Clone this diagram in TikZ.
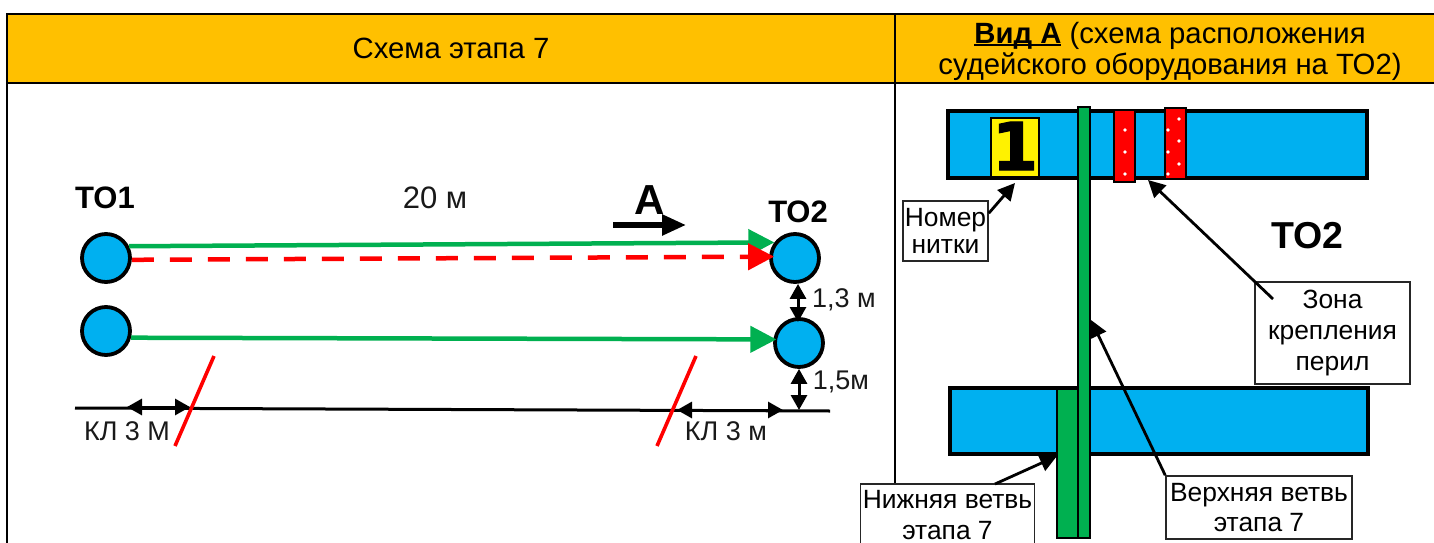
\documentclass[tikz,border=0pt]{standalone}
\usepackage{fontspec}
\setmainfont{Liberation Sans}
\newfontfamily\heavyfont[FakeBold=2]{DejaVu Sans Bold}
\usetikzlibrary{arrows.meta}
\definecolor{hdr}{HTML}{FFC000}
\definecolor{sky}{HTML}{00B0F0}
\definecolor{grn}{HTML}{00B050}
\definecolor{rd}{HTML}{FF0000}
\newcommand{\fs}[1]{\fontsize{#1pt}{#1pt}\selectfont}
\newcommand{\tightul}[1]{\setbox0\hbox{#1}\rlap{\rule[-2.4pt]{\wd0}{1.8pt}}\box0\relax}
\tikzset{
  header/.style={draw=black,line width=2.6pt,fill=hdr,inner sep=0pt,outer sep=0pt,align=center,font=\fs{29.3},text=black},
  post/.style={circle,draw=black,line width=3.8pt,fill=sky,minimum size=48pt,inner sep=0pt},
  bar/.style={draw=black,line width=4pt,fill=sky,inner sep=0pt},
  greenbar/.style={draw=black,line width=2pt,fill=grn,inner sep=0pt},
  redbar/.style={draw=black,line width=2pt,fill=rd,inner sep=0pt},
  callout/.style={draw=black!85,line width=1.6pt,fill=white,inner sep=0pt,align=center,font=\fs{26.4}},
  lbl/.style={inner sep=0pt,font=\fs{27},text=black!90},
  blbl/.style={inner sep=0pt,font=\fs{31}\bfseries},
  gline/.style={draw=grn,line width=4.5pt,-{Triangle[length=26pt,width=26pt]}},
  rline/.style={draw=rd,line width=4.5pt,dash pattern=on 22pt off 16pt,-{Triangle[length=26pt,width=26pt]}},
  dbl/.style={draw=black,line width=3pt,{Triangle[length=15pt,width=16pt]}-{Triangle[length=15pt,width=16pt]}},
  ptr/.style={draw=black,line width=2.8pt,-{Triangle[length=17pt,width=17pt]}},
  slash/.style={draw=rd,line width=3.6pt},
  wdot/.style={circle,fill=white,minimum size=3.8pt,inner sep=0pt}
}
\begin{document}
\begin{tikzpicture}[x=1pt,y=-1pt]
\clip (0,0) rectangle (1434,543);
\fill[white] (0,0) rectangle (1434,543);
% frame
\node[header,minimum width=888pt,minimum height=69pt] (h1) at (451,48.5) {Схема этапа 7};
\node[header,minimum width=560pt,minimum height=69pt] (h2) at (1175,48.5) {};
\node[inner sep=0pt,align=center,font=\fs{29.3}] (h2t) at (1170,51.5) {\tightul{\textbf{Вид А}} (схема расположения\\[2pt]судейского оборудования на ТО2)};
\coordinate (fl) at (7,543);
\coordinate (fd) at (895,543);
\draw[line width=2.6pt] (h1.south west) -- (fl);
\draw[line width=2.6pt] (h1.south east) -- (fd);
% posts
\node[post] (a1) at (106,258) {};
\node[post] (b1) at (106,331) {};
\node[post] (a2) at (795,258) {};
\node[post] (b2) at (799,343) {};
\node[blbl] (t1) at (105,198) {ТО1};
\node[blbl] (t2) at (798,212) {ТО2};
\node[lbl,font=\fs{31}] (d) at (435,198) {20 м};
\node[inner sep=0pt,font=\fs{42}\bfseries] (A) at (650,200) {А};
\coordinate (as) at (613,225);
\coordinate (ae) at (686,225);
\draw[line width=5.5pt,-{Triangle[length=24pt,width=20pt]}] (as) -- (ae);
% lines
\draw[gline] (a1.27) -- (a2.143);
\draw[rline,shorten >=-5pt] (a1.-4) -- (a2.177);
\draw[gline,shorten >=-3pt] (b1.-15) -- (b2.172);
% baseline
\coordinate (bl) at (75,408);
\coordinate (br) at (830,411);
\draw[line width=3pt] (bl) -- (br);
\coordinate (k1a) at (127,407);
\coordinate (k1b) at (190,407);
\coordinate (k2a) at (677,410);
\coordinate (k2b) at (783,410);
\coordinate (bv) at (799,410);
\draw[dbl] (k1a) -- (k1b);
\draw[dbl] (k2a) -- (k2b);
\draw[dbl] (a2.south) ++(3,0) coordinate (v1) -- (798,322);
\draw[dbl] (b2.south) -- (bv);
\coordinate (s1a) at (214,356);
\coordinate (s1b) at (175,446);
\coordinate (s2a) at (696,356);
\coordinate (s2b) at (657,446);
\draw[slash] (s1a) -- (s1b);
\draw[slash] (s2a) -- (s2b);
\node[lbl] (kl1) at (127,431) {КЛ 3 М};
\node[lbl] (kl2) at (726,431) {КЛ 3 м};
\node[lbl] (m1) at (844,300) {1,3 м};
\node[lbl] (m2) at (841,382) {1,5м};
% right panel
\node[bar,minimum width=419pt,minimum height=67pt] (top) at (1157.5,144.5) {};
\node[bar,minimum width=418pt,minimum height=66pt] (bot) at (1159,421) {};
\node[draw=black,line width=2pt,fill=yellow,minimum width=48pt,minimum height=59pt,inner sep=0pt] (y) at (1015,147) {};
\node[inner sep=0pt,font=\heavyfont\fs{66}] (one) at (1015,146) {1};
\node[redbar,minimum width=21pt,minimum height=72pt] (r1) at (1124,145.5) {};
\node[redbar,minimum width=21pt,minimum height=71pt] (r2) at (1175,143) {};
\foreach \px/\py in {1125/130,1125/152,1125/174,1179/119,1179/141,1179/164,1168/130,1168/152,1168/174}
  \node[wdot] at (\px,\py) {};
\node[greenbar,minimum width=21pt,minimum height=149pt] (g2) at (1067,463.5) {};
\node[greenbar,minimum width=12pt,minimum height=431pt] (g1) at (1084,322.5) {};
\node[callout,minimum width=85pt,minimum height=60pt] (c1) at (945.5,231) {Номер\\[1pt]нитки};
\node[callout,minimum width=155pt,minimum height=102pt] (c2) at (1332.5,333) {Зона\\[5pt]крепления\\[5pt]перил};
\node[callout,minimum width=174pt,minimum height=62pt] (c3) at (947.5,515) {Нижняя ветвь\\[5pt]этапа 7};
\node[callout,minimum width=186pt,minimum height=63pt] (c4) at (1259,507.5) {Верхняя ветвь\\[3pt]этапа 7};
\node[blbl,font=\fs{37.5}\bfseries] (t3) at (1307,236) {ТО2};
% pointers
\coordinate (p1) at (1015,183);
\coordinate (p2) at (1148,180);
\coordinate (p2s) at (1273,299);
\coordinate (p3) at (1091,320);
\coordinate (p4) at (1057,456);
\coordinate (p4s) at (995,484);
\draw[ptr] (c1.north east) ++(0,13) coordinate (p1s) -- (p1);
\draw[ptr] (p2s) -- (p2);
\draw[ptr] (c4.north west) -- (p3);
\draw[ptr] (p4s) -- (p4);
\end{tikzpicture}
\end{document}
